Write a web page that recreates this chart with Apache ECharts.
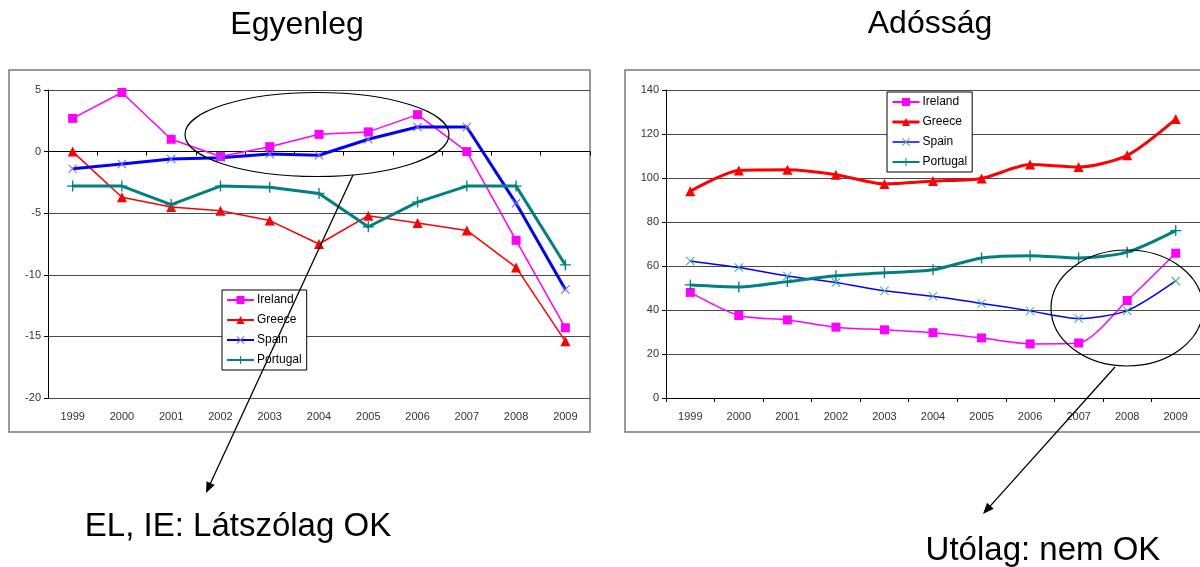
<!DOCTYPE html>
<html>
<head>
<meta charset="utf-8">
<script src="https://cdn.jsdelivr.net/npm/echarts@6/dist/echarts.min.js"></script>
<style>
  html, body { margin: 0; padding: 0; background: #fff; }
  #chart { width: 1200px; height: 567px; }
</style>
</head>
<body>
<div id="chart"></div>
<script>
// Years shared by both panels
const years = ['1999','2000','2001','2002','2003','2004','2005','2006','2007','2008','2009'];

// Egyenleg (budget balance, % of GDP)
const balanceIreland  = [2.7, 4.8, 1.0, -0.4, 0.4, 1.4, 1.6, 3.0, 0.0, -7.2, -14.3];
const balanceGreece   = [0.0, -3.7, -4.5, -4.8, -5.6, -7.5, -5.2, -5.8, -6.4, -9.4, -15.4];
const balanceSpain    = [-1.4, -1.0, -0.6, -0.5, -0.2, -0.3, 1.0, 2.0, 2.0, -4.2, -11.2];
const balancePortugal = [-2.8, -2.8, -4.3, -2.8, -2.9, -3.4, -6.1, -4.1, -2.8, -2.8, -9.2];

// Adósság (gross debt, % of GDP)
const debtIreland  = [48.0, 37.5, 35.5, 32.2, 31.0, 29.7, 27.3, 24.6, 25.0, 44.3, 65.8];
const debtGreece   = [94.0, 103.4, 103.7, 101.5, 97.3, 98.6, 99.8, 106.1, 105.0, 110.3, 126.8];
const debtSpain    = [62.3, 59.3, 55.5, 52.5, 48.7, 46.2, 43.0, 39.6, 36.1, 39.7, 53.2];
const debtPortugal = [51.4, 50.5, 52.9, 55.6, 56.9, 58.3, 63.6, 64.7, 63.6, 66.3, 76.1];

const seriesNames = ['Ireland', 'Greece', 'Spain', 'Portugal'];
const balanceTicks = { min: -20, max: 5, interval: 5 };
const debtTicks = { min: 0, max: 140, interval: 20 };

const FONT = '"Liberation Sans", Arial, sans-serif';
const CROSS = 'path://M0,0.8L0.8,0L5,4.2L9.2,0L10,0.8L5.8,5L10,9.2L9.2,10L5,5.8L0.8,10L0,9.2L4.2,5Z';
const PLUS = 'path://M4.4,0H5.6V4.4H10V5.6H5.6V10H4.4V5.6H0V4.4H4.4Z';

function line(name, data, grid, color, width, symbol, size, symColor, smooth) {
  return {
    type: 'line', name: name, data: data,
    xAxisIndex: grid === 0 ? 0 : 2, yAxisIndex: grid,
    smooth: smooth || false,
    symbol: symbol, symbolSize: size, showSymbol: true,
    lineStyle: { color: color, width: width },
    itemStyle: { color: symColor || color },
    emphasis: { disabled: true },
    z: 3
  };
}

const series = [
  line('Ireland',  balanceIreland,  0, '#ff00ff', 1.5, 'rect', 9),
  line('Greece',   balanceGreece,   0, '#ff0000', 1.5, 'triangle', 10),
  line('Spain',    balanceSpain,    0, '#0000ff', 3, CROSS, 9, '#6a6aff'),
  line('Portugal', balancePortugal, 0, '#008080', 3, PLUS, 11),
  line('Ireland',  debtIreland,  1, '#ff00ff', 1.5, 'rect', 9, null, 0.25),
  line('Greece',   debtGreece,   1, '#ff0000', 3, 'triangle', 10, null, 0.25),
  line('Spain',    debtSpain,    1, '#0000ff', 1.5, CROSS, 9, '#45a898', 0.25),
  line('Portugal', debtPortugal, 1, '#008080', 3, PLUS, 11, null, 0.25)
];

function yAxis(gridIndex, ticks) {
  return {
    type: 'value', gridIndex: gridIndex,
    min: ticks.min, max: ticks.max, interval: ticks.interval,
    axisLine: { show: true, lineStyle: { color: '#000', width: 1 } },
    axisTick: { show: true, length: 4, lineStyle: { color: '#000' } },
    axisLabel: { fontFamily: FONT, fontSize: 11, color: '#333', margin: 7 },
    splitLine: { show: true, lineStyle: { color: '#4a4a4a', width: 1 } }
  };
}

const legendBase = {
  orient: 'vertical',
  itemWidth: 27, itemHeight: 10, itemGap: 6,
  padding: [3, 5, 3, 4],
  backgroundColor: '#fff', borderColor: '#000', borderWidth: 1,
  textStyle: { fontFamily: FONT, fontSize: 12, color: '#000', lineHeight: 14, padding: [0, 0, 0, -2] },
  selectedMode: false,
  z: 5
};

// Arrow from (x1,y1) to (x2,y2): shaft plus a filled head
function arrow(x1, y1, x2, y2) {
  const a = Math.atan2(y2 - y1, x2 - x1);
  const len = 11, half = 4.5;
  const bx = x2 - len * Math.cos(a), by = y2 - len * Math.sin(a);
  const px = -Math.sin(a) * half, py = Math.cos(a) * half;
  return [
    { type: 'line', z: 100, shape: { x1: x1, y1: y1, x2: bx, y2: by }, style: { stroke: '#000', lineWidth: 1.3 } },
    { type: 'polygon', z: 100, shape: { points: [[x2, y2], [bx + px, by + py], [bx - px, by - py]] }, style: { fill: '#000' } }
  ];
}

function text(str, x, y, size) {
  return { type: 'text', z: 100, style: { text: str, x: x, y: y, font: size + 'px ' + FONT, fill: '#000', textAlign: 'center', textVerticalAlign: 'middle' } };
}

const chart = echarts.init(document.getElementById('chart'), null, { renderer: 'canvas' });
chart.setOption({
  animation: false,
  backgroundColor: '#fff',
  grid: [
    { left: 48, top: 90, width: 542, height: 308 },
    { left: 666, top: 90, width: 540, height: 308 }
  ],
  xAxis: [
    { type: 'category', gridIndex: 0, data: years, position: 'bottom',
      axisLine: { show: false, onZero: false }, axisTick: { show: false },
      axisLabel: { fontFamily: FONT, fontSize: 11, color: '#333', margin: 13 } },
    { type: 'category', gridIndex: 0, data: years, position: 'bottom',
      axisLine: { show: true, onZero: true, lineStyle: { color: '#000', width: 1 } },
      axisTick: { show: true, length: 4, lineStyle: { color: '#000' } },
      axisLabel: { show: false } },
    { type: 'category', gridIndex: 1, data: years, position: 'bottom',
      axisLine: { show: true, onZero: false, lineStyle: { color: '#000', width: 1 } },
      axisTick: { show: true, length: 4, lineStyle: { color: '#000' } },
      axisLabel: { fontFamily: FONT, fontSize: 11, color: '#333', margin: 13 } }
  ],
  yAxis: [yAxis(0, balanceTicks), yAxis(1, debtTicks)],
  legend: [
    Object.assign({}, legendBase, { left: 222, top: 290, data: seriesNames }),
    Object.assign({}, legendBase, { left: 887, top: 92, data: [
      { name: 'Ireland' },
      { name: 'Greece', lineStyle: { width: 3 } },
      { name: 'Spain', lineStyle: { width: 1.5 }, itemStyle: { color: '#45a898' } },
      { name: 'Portugal' }
    ] })
  ],
  series: series,
  graphic: [
    // panel frames
    { type: 'rect', z: 0, silent: true, shape: { x: 9, y: 70, width: 581, height: 362 }, style: { fill: 'none', stroke: '#7a7a7a', lineWidth: 1.5 } },
    { type: 'rect', z: 0, silent: true, shape: { x: 625, y: 70, width: 620, height: 362 }, style: { fill: 'none', stroke: '#7a7a7a', lineWidth: 1.5 } },
    // titles
    text('Egyenleg', 297, 25, 32),
    text('Adósság', 930, 24, 32),
    // highlighted regions
    { type: 'ellipse', z: 100, shape: { cx: 317, cy: 134.5, rx: 132, ry: 42 }, style: { fill: 'none', stroke: '#000', lineWidth: 1.2 } },
    { type: 'ellipse', z: 100, shape: { cx: 1127, cy: 308, rx: 76, ry: 58 }, style: { fill: 'none', stroke: '#000', lineWidth: 1.2 } },
    ...arrow(353, 175, 206, 493),
    ...arrow(1115, 367, 983, 514),
    text('EL, IE: Látszólag OK', 238, 527, 33),
    text('Utólag: nem OK', 1043, 551, 33)
  ]
});
</script>
</body>
</html>
